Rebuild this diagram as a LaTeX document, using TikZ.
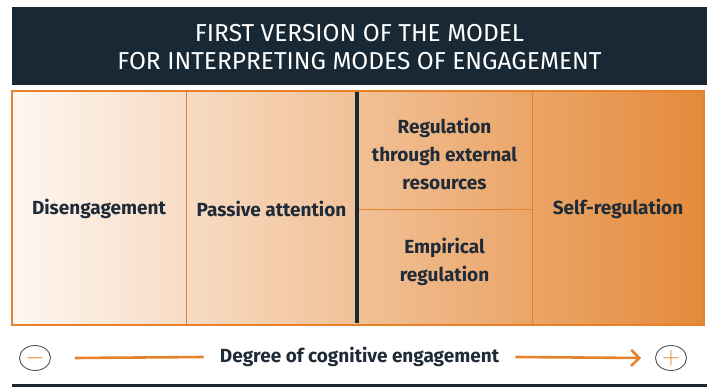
\documentclass[tikz,border=0pt]{standalone}
\usepackage{fontspec}
\setmainfont{Fira Sans}
\usepackage{tikz}
\usetikzlibrary{arrows.meta,shapes.geometric}
\definecolor{navy}{HTML}{182835}
\definecolor{ink}{HTML}{1F2B38}
\definecolor{orng}{HTML}{E5822B}
\definecolor{paleorng}{HTML}{FEF7F2}
\definecolor{deeporng}{HTML}{E48A3A}
\tikzset{
  cell/.style={text=ink,font=\fontsize{19}{28}\selectfont\bfseries,align=center},
  sign/.style={ellipse,draw=ink!80,line width=.9pt,minimum width=31pt,minimum height=25pt,inner sep=0pt,text=orng},
}

\begin{document}
\begin{tikzpicture}[x=1pt,y=-1pt]
\useasboundingbox (0,0) rectangle (707,387);
% title band
\fill[navy] (12,7) rectangle (707,85);
\node[text=white,font=\fontsize{24.5}{28}\selectfont,align=center] (title) at (359.5,47)
  {FIRST VERSION OF THE MODEL\\FOR INTERPRETING MODES OF ENGAGEMENT};
% table
\shade[left color=paleorng,right color=deeporng] (12,91) rectangle (704,325);
\draw[orng,line width=.9pt] (186,91) -- (186,325);
\draw[orng,line width=.9pt] (532,91) -- (532,325);
\draw[orng,line width=.9pt] (357,209) -- (532,209);
\draw[navy,line width=3.2pt] (357,91) -- (357,323);
\draw[orng,line width=2pt] (12,91) rectangle (704,325);
\node[cell] (dis) at (99,209) {Disengagement};
\node[cell] (pas) at (271.5,209) {Passive attention};
\node[cell] (ext) at (444.5,154) {Regulation\\through external\\resources};
\node[cell] (emp) at (444.5,262) {Empirical\\regulation};
\node[cell] (self) at (618,209) {Self-regulation};
% degree of engagement
\node[sign] (minus) at (35,358) {\fontsize{30}{30}\selectfont$-$};
\node[sign] (plus) at (671,358) {\fontsize{30}{30}\selectfont$+$};
\node[cell,inner xsep=16pt] (deg) at (359.5,357) {Degree of cognitive engagement};
\draw[orng,line width=2.6pt] ([xshift=24pt]minus.east) -- (deg.west);
\draw[orng,line width=2.6pt,-{Straight Barb[length=8pt,width=16pt]}] (deg.east) -- ([xshift=-14pt]plus.west);
\draw[navy,line width=3pt] (12,385.5) -- (707,385.5);
\end{tikzpicture}
\end{document}
